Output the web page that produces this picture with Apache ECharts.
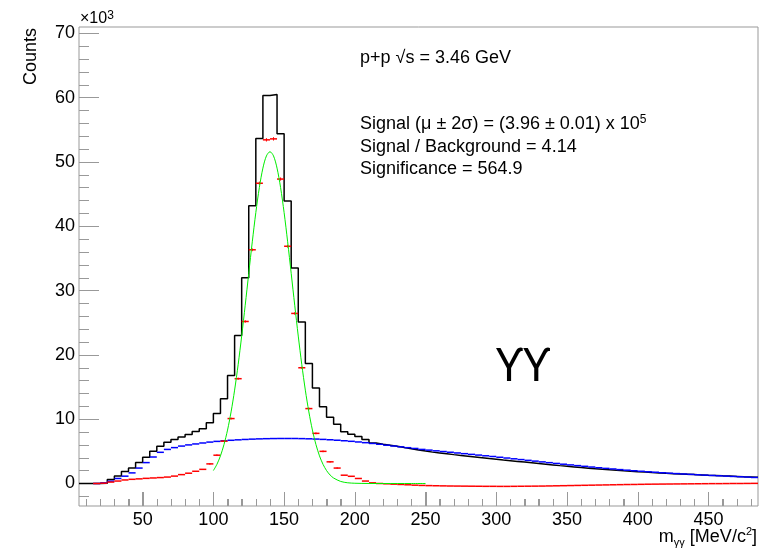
<!DOCTYPE html>
<html>
<head>
<meta charset="utf-8">
<script src="https://cdn.jsdelivr.net/npm/echarts@6/dist/echarts.min.js"></script>
<style>
  html, body { margin: 0; padding: 0; background: #fff; }
  #chart { width: 775px; height: 552px; }
</style>
</head>
<body>
<div id="chart"></div>
<script>
// Diphoton invariant mass, 5 MeV/c^2 bins from 5 to 485 MeV/c^2.
// All counts are in units of 10^3.
const BIN_START = 5;
const BIN_WIDTH = 5;

// Total counts per bin
const totalCounts = [
  0, 0, 0, 0.05, 0.62, 1.18, 1.85, 2.4, 3.28, 4.1,
  5.0, 5.78, 6.4, 6.86, 7.25, 7.63, 8.08, 8.5, 9.43, 10.9,
  13.2, 16.8, 23.0, 32.0, 43.2, 53.65, 60.35, 60.5, 54.4, 43.95,
  33.5, 25.1, 18.66, 14.87, 11.95, 10.3, 9.2, 8.03, 7.67, 7.31,
  6.84, 6.31, 6.11, 5.96, 5.80, 5.60, 5.42, 5.22, 5.04, 4.88,
  4.75, 4.62, 4.49, 4.37, 4.25, 4.13, 4.01, 3.89, 3.78, 3.66,
  3.55, 3.44, 3.33, 3.22, 3.11, 3.00, 2.89, 2.78, 2.68, 2.58,
  2.48, 2.39, 2.30, 2.21, 2.13, 2.05, 1.97, 1.90, 1.83, 1.77,
  1.71, 1.65, 1.59, 1.53, 1.48, 1.43, 1.38, 1.33, 1.28, 1.24,
  1.19, 1.15, 1.10, 1.05, 1.01, 0.96
];

// Combinatorial background per bin (null: bin not drawn)
const backgroundCounts = [
  null, null, 0.0, 0.1, 0.36, 0.78, 1.14, 1.65, 2.4, 3.25,
  4.12, 4.85, 5.3, 5.58, 5.82, 6.0, 6.15, 6.3, 6.44, 6.55,
  6.64, 6.72, 6.79, 6.85, 6.9, 6.94, 6.97, 6.99, 7.0, 7.0,
  7.0, 6.98, 6.95, 6.91, 6.86, 6.8, 6.73, 6.65, 6.56, 6.46,
  6.35, 6.23, 6.1, 5.96, 5.83, 5.7, 5.57, 5.45, 5.3, 5.19,
  5.08, 4.97, 4.86, 4.75, 4.64, 4.53, 4.42, 4.31, 4.2, 4.08,
  3.96, 3.84, 3.72, 3.6, 3.48, 3.36, 3.24, 3.12, 3.0, 2.89,
  2.78, 2.67, 2.56, 2.45, 2.35, 2.26, 2.16, 2.07, 1.98, 1.9,
  1.82, 1.75, 1.67, 1.6, 1.54, 1.48, 1.42, 1.36, 1.3, 1.25,
  1.2, 1.15, 1.1, 1.05, 1.0, 0.94
];

// Background-subtracted signal per bin
const signalCounts = [
  null, null, 0.0, 0.05, 0.22, 0.38, 0.55, 0.65, 0.72, 0.8,
  0.86, 0.92, 1.0, 1.15, 1.38, 1.6, 1.9, 2.2, 3.05, 4.4,
  6.58, 10.1, 16.3, 25.2, 36.35, 46.7, 53.45, 53.6, 47.35, 36.9,
  26.45, 18.0, 11.65, 7.8, 5.0, 3.37, 2.4, 1.29, 1.12, 0.78,
  0.38, 0.1, 0.0, -0.05, -0.1, -0.15, -0.2, -0.26, -0.3, -0.33,
  -0.35, -0.37, -0.39, -0.4, -0.41, -0.42, -0.43, -0.44, -0.44, -0.45,
  -0.45, -0.44, -0.43, -0.42, -0.41, -0.4, -0.38, -0.36, -0.34, -0.32,
  -0.3, -0.28, -0.26, -0.24, -0.22, -0.2, -0.18, -0.16, -0.15, -0.13,
  -0.11, -0.1, -0.09, -0.08, -0.07, -0.06, -0.05, -0.04, -0.03, -0.02,
  -0.02, -0.01, 0.0, 0.0, 0.01, 0.02
];

// Gaussian fit of the peak, sampled along the fit range
const fitMass = [
  100, 102.5, 105, 107.5, 110, 112.5, 115, 117.5, 120, 122.5,
  125, 127.5, 130, 132.5, 135, 137.5, 140, 142.5, 145, 147.5,
  150, 152.5, 155, 157.5, 160, 162.5, 165, 167.5, 170, 172.5,
  175, 177.5, 180, 182.5, 185, 190, 195, 200, 210, 220, 230, 240, 250
];
const fitCounts = [
  2.01, 2.98, 4.30, 6.06, 8.31, 11.13, 14.52, 18.48, 22.93, 27.73,
  32.69, 37.59, 42.13, 46.04, 49.05, 50.95, 51.6, 50.95, 49.05, 46.04,
  42.13, 37.59, 32.69, 27.73, 22.93, 18.48, 14.52, 11.13, 8.31, 6.06,
  4.30, 2.98, 2.01, 1.32, 0.85, 0.32, 0.11, 0.04, 0, 0, 0, 0, 0
];

// Axis labels
const xTickLabels = [50, 100, 150, 200, 250, 300, 350, 400, 450];
const yTickLabels = [0, 10, 20, 30, 40, 50, 60, 70];

const X_MIN = 5, X_MAX = 485;
const Y_MIN = -3.5, Y_MAX = 71;

const FONT = '"Liberation Sans", Arial, Helvetica, sans-serif';
const FRAME = '#999';

const xMinorTicks = [];
for (let v = 10; v < X_MAX; v += 10) xMinorTicks.push(v);
const yMinorTicks = [];
for (let v = -2; v <= 70; v += 2) yMinorTicks.push(v);

// Tick marks along the bottom edge: [position, length in px]
const xTickMarks = xMinorTicks.map(v => [v, 7]).concat(xTickLabels.map(v => [v, 14]));

// Histogram outline: one point per lower bin edge, closed at the last upper edge
const histData = totalCounts.map((v, i) => [BIN_START + i * BIN_WIDTH, v]);
histData.push([BIN_START + totalCounts.length * BIN_WIDTH, totalCounts[totalCounts.length - 1]]);

const fitData = fitMass.map((m, i) => [m, fitCounts[i]]);

// Per-bin horizontal markers; the signal also carries its statistical error bar
// (sqrt of total + background counts), drawn only where it is visible
function binMarkers(name, values, color, withErrors, z) {
  const data = [];
  values.forEach((v, i) => {
    if (v === null) return;
    let err = 0;
    if (withErrors) {
      const n = (totalCounts[i] + (backgroundCounts[i] || 0)) * 1000;
      err = Math.sqrt(Math.max(n, 0)) / 1000;
    }
    data.push([BIN_START + i * BIN_WIDTH, BIN_START + (i + 1) * BIN_WIDTH, v, err]);
  });
  return {
    type: 'custom',
    name: name,
    data: data,
    z: z,
    silent: true,
    clip: true,
    xAxisIndex: 0,
    yAxisIndex: 0,
    encode: { x: [0, 1], y: 2 },
    renderItem: function (params, api) {
      const a = api.coord([api.value(0), api.value(2)]);
      const b = api.coord([api.value(1), api.value(2)]);
      const children = [{
        type: 'line',
        shape: { x1: a[0], y1: a[1], x2: b[0], y2: b[1] },
        style: { stroke: color, lineWidth: 1.5 }
      }];
      const err = api.value(3);
      if (err > 0) {
        const xm = (a[0] + b[0]) / 2;
        const lo = api.coord([api.value(0), api.value(2) - err])[1];
        const hi = api.coord([api.value(0), api.value(2) + err])[1];
        if (lo - hi >= 1.6) {
          children.push({
            type: 'line',
            shape: { x1: xm, y1: hi, x2: xm, y2: lo },
            style: { stroke: color, lineWidth: 1 }
          });
        }
      }
      return { type: 'group', children: children };
    }
  };
}

// Bottom-edge ticks drawn as a custom series on the x scale
const xTickSeries = {
  type: 'custom',
  name: 'x ticks',
  data: xTickMarks,
  xAxisIndex: 0, yAxisIndex: 0,
  silent: true,
  clip: false,
  z: 20,
  encode: { x: 0, y: 1 },
  renderItem: function (params, api) {
    const p = api.coord([api.value(0), Y_MIN]);
    const x = Math.round(p[0]) + 0.5;
    return {
      type: 'line',
      shape: { x1: x, y1: p[1], x2: x, y2: p[1] - api.value(1) },
      style: { stroke: FRAME, lineWidth: 1 }
    };
  }
};

const GRID = { left: 79, right: 17, top: 27, bottom: 46 };

const chart = echarts.init(document.getElementById('chart'), null, { renderer: 'canvas' });

chart.setOption({
  animation: false,
  backgroundColor: '#fff',
  grid: Object.assign({
    show: true, borderColor: FRAME, borderWidth: 1, backgroundColor: 'transparent',
    containLabel: false, outerBoundsMode: 'none'
  }, GRID),
  xAxis: [
    {
      type: 'value', min: X_MIN, max: X_MAX, position: 'bottom',
      axisLine: { show: false, onZero: false },
      axisTick: { show: true, inside: true, length: 14, customValues: xTickLabels, lineStyle: { color: FRAME, width: 1 } },
      splitLine: { show: false },
      axisLabel: { customValues: xTickLabels, fontSize: 18, fontFamily: FONT, color: '#000', margin: 5 }
    },
    {
      type: 'value', min: X_MIN, max: X_MAX, position: 'bottom',
      axisLine: { show: false, onZero: false },
      axisTick: { show: true, inside: true, length: 7, customValues: xMinorTicks, lineStyle: { color: FRAME, width: 1 } },
      splitLine: { show: false },
      axisLabel: { show: false }
    }
  ],
  yAxis: [
    {
      type: 'value', min: Y_MIN, max: Y_MAX, position: 'left',
      axisLine: { show: false, onZero: false }, splitLine: { show: false },
      axisTick: { show: true, inside: true, length: 20, customValues: yTickLabels, lineStyle: { color: FRAME, width: 1 } },
      axisLabel: { customValues: yTickLabels, fontSize: 18, fontFamily: FONT, color: '#000', margin: 4 }
    },
    {
      type: 'value', min: Y_MIN, max: Y_MAX, position: 'left',
      axisLine: { show: false, onZero: false }, splitLine: { show: false },
      axisTick: { show: true, inside: true, length: 10, customValues: yMinorTicks, lineStyle: { color: FRAME, width: 1 } },
      axisLabel: { show: false }
    }
  ],
  series: [
    xTickSeries,
    {
      type: 'line', name: 'Total', data: histData, step: 'end',
      xAxisIndex: 0, yAxisIndex: 0,
      symbol: 'none', silent: true, z: 2,
      lineStyle: { color: '#000', width: 1.5 }
    },
    binMarkers('Background', backgroundCounts, '#0000ff', false, 3),
    binMarkers('Signal', signalCounts, '#ff0000', true, 4),
    {
      type: 'line', name: 'Gaussian fit', data: fitData, smooth: 0.3,
      xAxisIndex: 0, yAxisIndex: 0,
      symbol: 'none', silent: true, z: 5,
      lineStyle: { color: '#00ee00', width: 1 }
    }
  ]
});

// Text annotations
const textGraphics = [
  {
    type: 'text', x: 31, y: 28, rotation: Math.PI / 2,
    style: { text: 'Counts', font: '18px ' + FONT, fill: '#000', align: 'right', verticalAlign: 'middle', textAlign: 'right', textVerticalAlign: 'middle' }
  },
  {
    type: 'text', x: 80, y: 19,
    style: {
      text: '{b|×10}{s|3}', fill: '#000', align: 'left', verticalAlign: 'middle', textAlign: 'left', textVerticalAlign: 'middle',
      rich: {
        b: { fontSize: 16, fontFamily: FONT, lineHeight: 18, fill: '#000' },
        s: { fontSize: 12, fontFamily: FONT, lineHeight: 12, verticalAlign: 'top', fill: '#000' }
      }
    }
  },
  {
    type: 'text', x: 360, y: 57.7,
    style: { text: 'p+p √s = 3.46 GeV', font: '18px ' + FONT, fill: '#000', align: 'left', verticalAlign: 'middle', textAlign: 'left', textVerticalAlign: 'middle' }
  },
  {
    type: 'text', x: 360, y: 124.4,
    style: {
      text: '{b|Signal (μ ± 2σ) = (3.96 ± 0.01) x 10}{s|5}', fill: '#000', align: 'left', verticalAlign: 'middle', textAlign: 'left', textVerticalAlign: 'middle',
      rich: {
        b: { fontSize: 18, fontFamily: FONT, lineHeight: 22, fill: '#000' },
        s: { fontSize: 12, fontFamily: FONT, lineHeight: 12, verticalAlign: 'top', fill: '#000' }
      }
    }
  },
  {
    type: 'text', x: 360, y: 146.7,
    style: { text: 'Signal / Background = 4.14', font: '18px ' + FONT, fill: '#000', align: 'left', verticalAlign: 'middle', textAlign: 'left', textVerticalAlign: 'middle' }
  },
  {
    type: 'text', x: 360, y: 169.1,
    style: { text: 'Significance = 564.9', font: '18px ' + FONT, fill: '#000', align: 'left', verticalAlign: 'middle', textAlign: 'left', textVerticalAlign: 'middle' }
  },
  {
    type: 'text', x: 496, y: 368,
    style: { text: 'ϒϒ', font: '46px "Noto Sans", sans-serif', fill: '#000', align: 'left', verticalAlign: 'middle', textAlign: 'left', textVerticalAlign: 'middle' }
  },
  {
    type: 'text', x: 757, y: 537.4,
    style: {
      text: '{b|m}{d|γγ}{b| [MeV/c}{s|2}{b|]}', fill: '#000', align: 'right', verticalAlign: 'middle', textAlign: 'right', textVerticalAlign: 'middle',
      rich: {
        b: { fontSize: 18, fontFamily: FONT, lineHeight: 22, fill: '#000' },
        d: { fontSize: 11, fontFamily: FONT, lineHeight: 11, verticalAlign: 'bottom', fill: '#000' },
        s: { fontSize: 11, fontFamily: FONT, lineHeight: 11, verticalAlign: 'top', fill: '#000' }
      }
    }
  }
];

// The same bottom ticks as plain graphic lines, positioned through the grid's x scale
const frameBottom = chart.getHeight() - GRID.bottom;
const tickGraphics = [];
xTickMarks.forEach(function (t) {
  const px = chart.convertToPixel({ xAxisIndex: 0 }, t[0]);
  const x = Math.round(Number(px)) + 0.5;
  if (!isFinite(x)) return;
  tickGraphics.push({
    type: 'line', silent: true, z: 100,
    shape: { x1: x, y1: frameBottom, x2: x, y2: frameBottom - t[1] },
    style: { stroke: FRAME, lineWidth: 1 }
  });
});

chart.setOption({ graphic: textGraphics.concat(tickGraphics) });
</script>
</body>
</html>
